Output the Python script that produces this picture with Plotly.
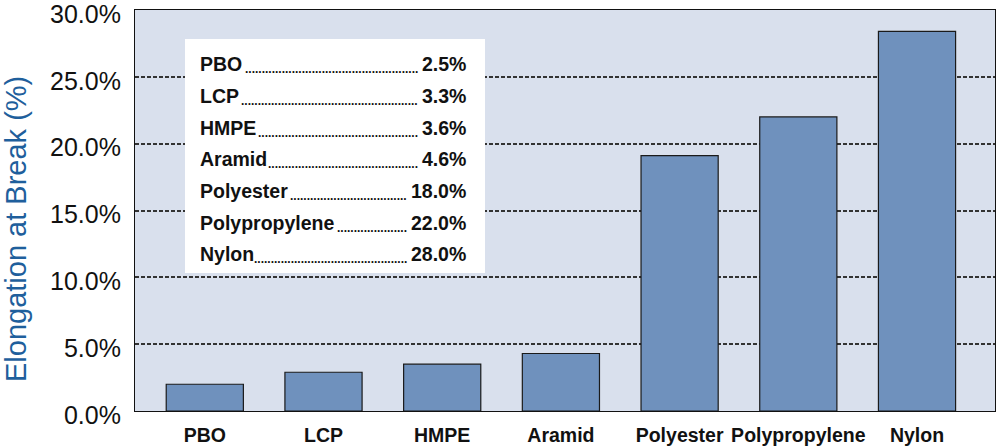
import plotly.graph_objects as go

categories = ["PBO", "LCP", "HMPE", "Aramid", "Polyester", "Polypropylene", "Nylon"]
bar_values = [2.0, 2.9, 3.5, 4.3, 19.1, 22.0, 28.4]
legend_values = ["2.5%", "3.3%", "3.6%", "4.6%", "18.0%", "22.0%", "28.0%"]
y_ticks = [0, 5, 10, 15, 20, 25, 30]
y_tick_labels = ["0.0%", "5.0%", "10.0%", "15.0%", "20.0%", "25.0%", "30.0%"]

W, H = 996, 447
ML, MR, MT, MB = 135, 1, 10, 36
PW, PH = W - ML - MR, H - MT - MB

def px_x(px):
    return (px - ML) / PW

def px_y(py):
    return (H - MB - py) / PH

SANS = "Liberation Sans, Arial, Helvetica, sans-serif"
LEG_SIZE = 19.5
DOT_SIZE = 12
# Arial/Liberation Sans Bold advance widths (em), used to fit the dot leaders
BOLD_W = {"0": 0.556, "1": 0.556, "2": 0.556, "3": 0.556, "4": 0.556, "5": 0.556,
          "6": 0.556, "7": 0.556, "8": 0.556, "9": 0.556, ".": 0.278, "%": 0.889,
          "P": 0.667, "B": 0.722, "O": 0.778, "L": 0.611, "C": 0.722, "H": 0.722,
          "M": 0.833, "E": 0.667, "A": 0.722, "N": 0.722, "r": 0.389, "a": 0.556,
          "m": 0.889, "i": 0.278, "d": 0.611, "o": 0.611, "l": 0.278, "y": 0.556,
          "e": 0.556, "s": 0.556, "t": 0.333, "p": 0.611, "n": 0.611}

def text_w(s, size):
    return sum(BOLD_W.get(c, 0.6) for c in s) * size

fig = go.Figure()
fig.add_trace(go.Bar(
    x=categories, y=bar_values, width=0.65,
    marker=dict(color="#6f91bd", line=dict(color="#1a1a1a", width=1.2)),
    hoverinfo="x+y",
))

shapes = [dict(type="rect", xref="paper", yref="paper",
               x0=px_x(185), x1=px_x(485), y0=px_y(273), y1=px_y(39),
               fillcolor="white", line=dict(width=0), layer="above")]

annotations = []
row_y0, row_dy = 64.3, 31.67
value_right = 467.5
name_left = 197.5
for i, (name, v) in enumerate(zip(categories, legend_values)):
    yy = px_y(row_y0 + i * row_dy)
    annotations.append(dict(
        xref="paper", yref="paper", x=px_x(name_left), y=yy,
        xanchor="left", yanchor="middle", showarrow=False, text=name,
        font=dict(family=SANS, size=LEG_SIZE, color="#111111", weight="bold"),
    ))
    annotations.append(dict(
        xref="paper", yref="paper", x=px_x(value_right), y=yy,
        xanchor="right", yanchor="middle", showarrow=False, text=v,
        font=dict(family=SANS, size=LEG_SIZE, color="#111111", weight="bold"),
    ))
    dots_right = value_right - text_w(v, LEG_SIZE) - 3
    dots_left = name_left + text_w(name, LEG_SIZE) + 4
    n = int((dots_right - dots_left) / (0.278 * DOT_SIZE))
    annotations.append(dict(
        xref="paper", yref="paper", x=px_x(dots_right), y=yy,
        xanchor="right", yanchor="middle", yshift=-5, showarrow=False, text="." * n,
        font=dict(family=SANS, size=DOT_SIZE, color="#111111", weight="bold"),
    ))
annotations.append(dict(
    xref="paper", yref="paper", x=px_x(16), y=px_y(229), xanchor="center", yanchor="middle",
    showarrow=False, textangle=-90, text="Elongation at Break (%)",
    font=dict(family=SANS, size=29, color="#1f5f9c"),
))

fig.update_layout(
    width=W, height=H,
    margin=dict(l=ML, r=MR, t=MT, b=MB, pad=0, autoexpand=False),
    paper_bgcolor="white", plot_bgcolor="#d9e0ed",
    showlegend=False,
    shapes=shapes, annotations=annotations,
    xaxis=dict(
        range=[-0.588, 6.657], showline=True, mirror=True, linecolor="#111111", linewidth=1.2,
        ticks="", showgrid=False, automargin=False, tickangle=0,
        tickfont=dict(family=SANS, size=19.5, color="#111111", weight="bold"),
        ticklabelstandoff=6,
    ),
    yaxis=dict(
        range=[0, 30.0001], tickvals=y_ticks, ticktext=y_tick_labels,
        showline=True, mirror=True, linecolor="#111111", linewidth=1.2,
        showgrid=True, gridcolor="#333333", gridwidth=1.5, griddash="4px,2px",
        zeroline=False, ticks="", automargin=False, ticklabeloverflow="allow",
        tickfont=dict(family=SANS, size=25, color="#111111"),
        ticklabelstandoff=8, ticklabelshift=4,
    ),
)

fig.write_html("out.html", config={"displayModeBar": False},
               post_script="document.body.style.margin='0';")
